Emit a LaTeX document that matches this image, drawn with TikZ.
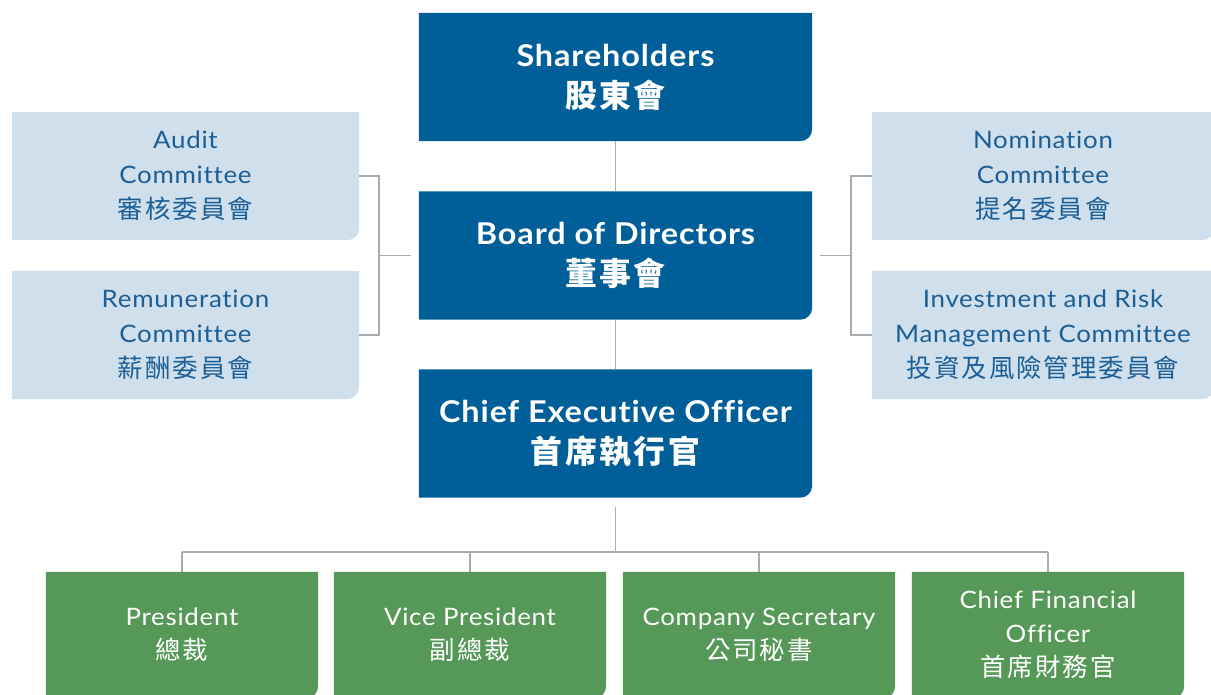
\documentclass[tikz,border=0pt]{standalone}
\usepackage{fontspec}
\setmainfont{Lato}[FakeStretch=1.08, LetterSpace=3, Ligatures=NoCommon]
\newfontfamily\cjk{Noto Sans CJK TC}[Scale=1.06, LetterSpace=8]
\usetikzlibrary{backgrounds}

\definecolor{boardblue}{HTML}{005E98}
\definecolor{cttblue}{HTML}{CFE0EC}
\definecolor{cttink}{HTML}{1C5E96}
\definecolor{mgmtgreen}{HTML}{569857}
\definecolor{linkgray}{HTML}{ABABAB}

\tikzset{
  govbox/.style={text=white, align=center, minimum width=393pt, minimum height=128pt,
    font=\fontsize{30}{41}\selectfont\bfseries},
  cttbox/.style={text=cttink, align=center, minimum width=347pt, minimum height=128pt,
    font=\fontsize{24}{35}\selectfont},
  mgmtbox/.style={text=white, align=center, minimum width=272pt, minimum height=126pt,
    font=\fontsize{24}{34}\selectfont},
  link/.style={draw=linkgray, line width=1.5pt},
}

% card with only the lower right corner rounded
\newcommand\cardfill[2]{%
  \fill[#2] (#1.north west) -- (#1.north east) -- ([yshift=12pt]#1.south east)
    arc[start angle=0, end angle=-90, radius=12pt] -- (#1.south west) -- cycle;}

\begin{document}
\begin{tikzpicture}[x=1pt,y=1pt]
    \useasboundingbox (0,0) rectangle (1211,-695);

    \node[govbox] (share) at (615.5,-77) {Shareholders\\{\cjk 股東會}};
    \node[govbox] (board) at (615.5,-255.5) {Board of Directors\\{\cjk 董事會}};
    \node[govbox] (ceo) at (615.5,-433.5) {Chief Executive Officer\\{\cjk 首席執行官}};

    \node[cttbox] (audit) at (185.5,-176) {Audit\\Committee\\{\cjk 審核委員會}};
    \node[cttbox] (remun) at (185.5,-335) {Remuneration\\Committee\\{\cjk 薪酬委員會}};
    \node[cttbox, minimum width=342pt] (nomin) at (1043,-176) {Nomination\\Committee\\{\cjk 提名委員會}};
    \node[cttbox, minimum width=342pt] (invest) at (1043,-335) {Investment and Risk\\Management Committee\\{\cjk 投資及風險管理委員會}};

    \node[mgmtbox] (pres) at (182,-635) {President\\{\cjk 總裁}};
    \node[mgmtbox] (vice) at (470,-635) {Vice President\\{\cjk 副總裁}};
    \node[mgmtbox] (cosec) at (759,-635) {Company Secretary\\{\cjk 公司秘書}};
    \node[mgmtbox] (cfo) at (1048,-635) {Chief Financial\\Officer\\{\cjk 首席財務官}};

    \begin{scope}[on background layer]
        \foreach \n in {share,board,ceo} {\cardfill{\n}{boardblue}}
        \foreach \n in {audit,remun,nomin,invest} {\cardfill{\n}{cttblue}}
        \foreach \n in {pres,vice,cosec,cfo} {\cardfill{\n}{mgmtgreen}}
    \end{scope}

    % board chain
    \draw[link] (share) -- (board);
    \draw[link] (board) -- (ceo);

    % committees
    \coordinate (lbar) at (379,-255.5);
    \coordinate (rbar) at (851,-255.5);
    \draw[link] (audit.east) -| (lbar |- remun.east) -- (remun.east);
    \draw[link] (lbar) -- ([xshift=-8pt]board.west);
    \draw[link] (nomin.west) -| (rbar |- invest.west) -- (invest.west);
    \draw[link] (rbar) -- ([xshift=8pt]board.east);

    % management
    \coordinate (split) at (615.5,-552);
    \draw[link] ([yshift=-9pt]ceo.south) -- (split);
    \draw[link] (pres.north |- split) -- (cfo.north |- split);
    \foreach \n in {pres,vice,cosec,cfo}
        \draw[link] (\n.north |- split) -- (\n.north);
\end{tikzpicture}
\end{document}
